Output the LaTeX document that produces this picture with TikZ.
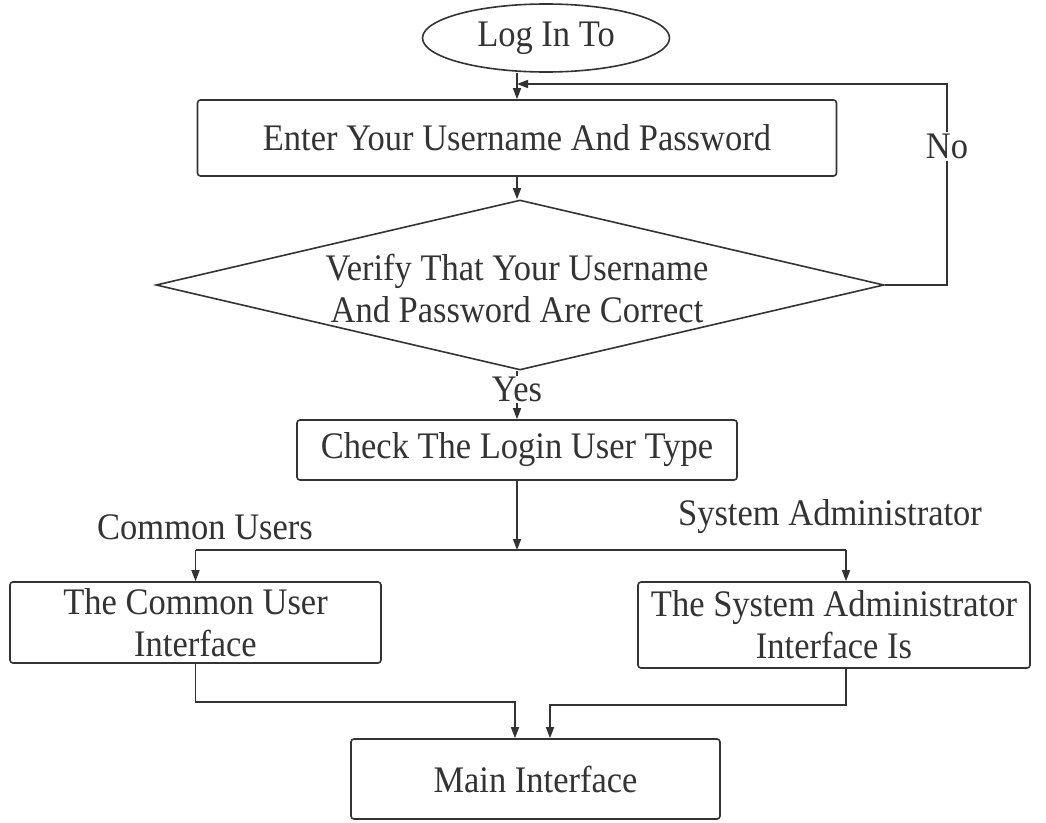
\documentclass[tikz,border=0pt]{standalone}
\usepackage{fontspec}
\setmainfont{Liberation Serif}[FakeStretch=0.92]
\usetikzlibrary{shapes.geometric,arrows.meta,calc}
\definecolor{ink}{HTML}{333333}
\begin{document}
\begin{tikzpicture}[x=1pt,y=-1pt,
  every node/.style={text=ink,font=\fontsize{37.5}{42}\selectfont},
  box/.style={draw=ink,line width=1.6pt,rounded corners=3pt,align=center,inner sep=0pt},
  conn/.style={draw=ink,line width=1.6pt},
  arr/.style={conn,-{Triangle[length=11pt,width=8pt]}},
  lbl/.style={fill=white,inner sep=2pt}]
\useasboundingbox (0,0) rectangle (1046,822);
% nodes
\node[ellipse,draw=ink,line width=1.6pt,minimum width=247pt,minimum height=68pt,inner sep=0pt] (e) at (546,38) {Log In To};
\node[box,minimum width=639pt,minimum height=76pt] (b1) at (517,138) {Enter Your Username And Password};
\node[diamond,draw=ink,line width=1.6pt,minimum width=728pt,minimum height=170pt,inner sep=0pt] (d) at (520,285) {};
\node[align=center] (dt) at (517,288) {Verify That Your Username\\And Password Are Correct};
\node[box,minimum width=440pt,minimum height=60pt] (b3) at (517,450) {Check The Login User Type};
\node[box,minimum width=371pt,minimum height=81pt] (lb) at (195.5,622.5) {The Common User\\Interface};
\node[box,minimum width=392pt,minimum height=86pt] (rb) at (834,625) {The System Administrator\\Interface Is};
\node[box,minimum width=369pt,minimum height=80pt] (m) at (535.5,779) {Main Interface};
\node (cu) at (205,527) {Common Users};
\node (sa) at (830,517) {System Administrator};
% coordinates
\coordinate (fb) at (517,84);
\coordinate (nc) at (947,84);
\coordinate (j) at (517,550);
\coordinate (rj) at (846,550);
\coordinate (ml) at (515,702);
\coordinate (mr) at (550,705);
% connectors
\draw[arr] (b1.north |- e.south) -- (b1.north);
\draw[arr] (b1.south) -- (b1.south |- d.north);
\draw[arr] (d.east) -- (d.east -| nc) -- node[lbl,pos=0.69]{No} (nc) -- (fb);
\draw[arr] (b3.north |- d.south) -- node[lbl,pos=0.38,inner sep=1pt]{Yes} (b3.north);
\draw[arr] (b3.south) -- (j);
\draw[conn] (lb.north |- j) -- (rj);
\draw[arr] (lb.north |- j) -- (lb.north);
\draw[arr] (rj) -- (rj |- rb.north);
\draw[arr] (lb.south) |- (ml) -- (ml |- m.north);
\draw[arr] (rb.south -| rj) |- (mr) -- (mr |- m.north);
\end{tikzpicture}
\end{document}
